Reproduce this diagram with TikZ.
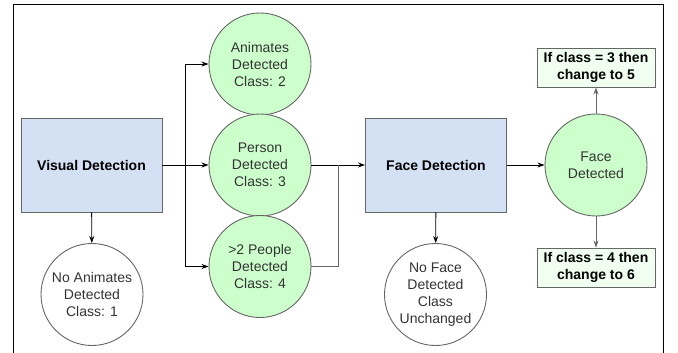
\documentclass[tikz,border=0pt]{standalone}
\usepackage{fontspec}
\setmainfont{Liberation Sans}
\usepackage{tikz}
\usetikzlibrary{arrows.meta}
\definecolor{boxblue}{HTML}{D4E1F5}
\definecolor{circgreen}{HTML}{CCFFCC}
\definecolor{notegreen}{HTML}{F0FFF0}
\definecolor{edgegray}{HTML}{666666}
\definecolor{textgray}{HTML}{333333}

\tikzset{
  stage/.style={draw=edgegray, fill=boxblue, minimum width=141pt, minimum height=94pt,
    font=\bfseries\fontsize{14}{17}\selectfont},
  found/.style={circle, draw=edgegray, fill=circgreen, minimum size=102pt, inner sep=0pt,
    align=center, text=textgray, font=\fontsize{14}{17}\selectfont},
  missed/.style={circle, draw=edgegray, fill=white, minimum size=102pt, inner sep=0pt,
    align=center, text=textgray, font=\fontsize{14}{17}\selectfont},
  note/.style={draw=edgegray, fill=notegreen, minimum width=118pt, minimum height=39pt,
    inner sep=0pt, align=center, font=\bfseries\fontsize{14}{17}\selectfont},
  flow/.style={-{Stealth[length=7pt, width=5pt]}},
}

\begin{document}
\begin{tikzpicture}[x=1pt, y=-1pt, line width=0.9pt]
  \useasboundingbox (0, 0) rectangle (678, 353);
  \draw (13, 353) -- (13, 4) -- (663, 4) -- (663, 353);

  \node[stage] (visual) at (91.5, 165) {Visual Detection};
  \node[found] (animates) at (260, 64) {Animates\\Detected\\Class: 2};
  \node[found] (person) at (260, 165) {Person\\Detected\\Class: 3};
  \node[found] (people) at (260, 266.5) {>2 People\\Detected\\Class: 4};
  \node[missed] (noanimates) at (92, 294.5) {No Animates\\Detected\\Class: 1};
  \node[stage] (face) at (436, 165) {Face Detection};
  \node[missed] (noface) at (435.5, 294.5) {No Face\\Detected\\Class\\Unchanged};
  \node[found] (facefound) at (596, 165) {Face\\Detected};
  \node[note] (upnote) at (596, 67.5) {If class = 3 then\\change to 5};
  \node[note] (downnote) at (596, 267.5) {If class = 4 then\\change to 6};

  \coordinate (split) at (185, 165);
  \coordinate (join) at (338, 165);

  \draw[flow] (visual) -- (person);
  \draw[flow] (split) |- (animates);
  \draw[flow] (split) |- (people);
  \draw[flow] (visual) -- (noanimates);
  \draw[flow] (person) -- (face);
  \draw[edgegray] (people) -| (join);
  \draw[flow] (face) -- (noface);
  \draw[flow] (face) -- (facefound);
  \draw[flow, edgegray] (facefound) -- (upnote);
  \draw[flow, edgegray] (facefound) -- (downnote);
\end{tikzpicture}
\end{document}
